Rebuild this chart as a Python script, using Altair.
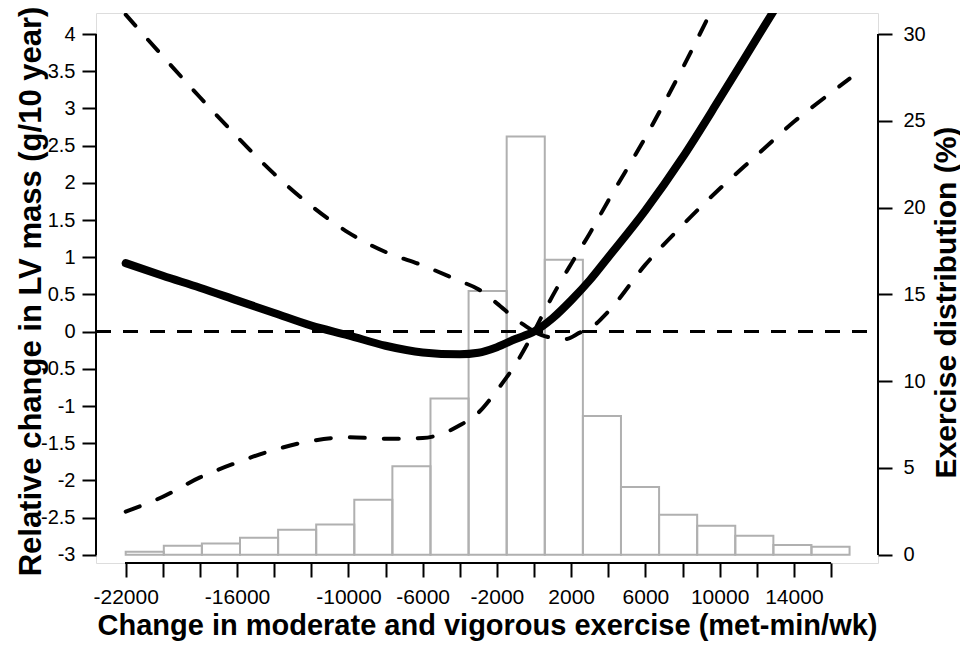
import altair as alt
import pandas as pd

# ---- data ----
# histogram (exercise distribution, %), bins in met-min/wk
bin_left = [-22000, -19947, -17895, -15842, -13789, -11737, -9684, -7632, -5579, -3526,
            -1474, 579, 2632, 4684, 6737, 8789, 10842, 12895, 14947]
bin_right = [-19947, -17895, -15842, -13789, -11737, -9684, -7632, -5579, -3526, -1474,
             579, 2632, 4684, 6737, 8789, 10842, 12895, 14947, 17000]
bin_pct = [0.18, 0.52, 0.65, 0.98, 1.44, 1.75, 3.17, 5.1, 9.0, 15.2,
           24.1, 17.0, 8.0, 3.9, 2.3, 1.67, 1.1, 0.56, 0.46]

# fitted curve
fit_x = [-22000, -20000, -18000, -16000, -14000, -12000, -10000, -8000, -6000, -4000, -3000,
         -2000, -1000, 0, 1000, 2000, 3000, 4000, 6000, 8000, 10000, 12000, 14000]
fit_y = [0.92, 0.75, 0.59, 0.42, 0.25, 0.08, -0.05, -0.19, -0.28, -0.305, -0.285,
         -0.21, -0.10, 0.0, 0.18, 0.42, 0.69, 1.0, 1.63, 2.34, 3.13, 3.94, 4.75]

# confidence band pieces (dashed)
ci_upper_left_x = [0, -1000, -2000, -3000, -4000, -6000, -8000, -10000, -12000, -14000, -16000, -18000, -20000, -22000]
ci_upper_left_y = [0.0, 0.17, 0.38, 0.57, 0.68, 0.89, 1.07, 1.33, 1.69, 2.12, 2.62, 3.15, 3.70, 4.26]
ci_upper_right_x = [0, 1000, 2000, 3000, 4000, 6000, 8000, 10000]
ci_upper_right_y = [0.0, 0.48, 0.91, 1.32, 1.76, 2.61, 3.54, 4.54]
ci_lower_left_x = [-22000, -20000, -18000, -16000, -14000, -12000, -10000, -8000, -6000, -4000, -3000, -2000, -1000, 0]
ci_lower_left_y = [-2.42, -2.22, -1.96, -1.76, -1.59, -1.47, -1.42, -1.44, -1.43, -1.26, -1.09, -0.79, -0.44, 0.0]
ci_lower_right_x = [0, 700, 1700, 2500, 3000, 4000, 6000, 8000, 10000, 12000, 14000, 16000, 17000]
ci_lower_right_y = [0.0, -0.07, -0.10, -0.01, 0.04, 0.27, 0.90, 1.43, 1.92, 2.37, 2.82, 3.21, 3.40]

# axes
x_ticks = [-22000, -20000, -18000, -16000, -14000, -12000, -10000, -8000, -6000, -4000, -2000,
           0, 2000, 4000, 6000, 8000, 10000, 12000, 14000, 16000]
x_labels_shown = [-22000, -16000, -10000, -6000, -2000, 2000, 6000, 10000, 14000]
y_ticks = [-3, -2.5, -2, -1.5, -1, -0.5, 0, 0.5, 1, 1.5, 2, 2.5, 3, 3.5, 4]
pct_ticks = [0, 5, 10, 15, 20, 25, 30]

# ---- tables ----
hist_df = pd.DataFrame({"x0": bin_left, "x1": bin_right, "pct": bin_pct})
fit_df = pd.DataFrame({"x": fit_x, "y": fit_y})
ci_rows = []
for name, xs, ys in [("ul", ci_upper_left_x, ci_upper_left_y),
                     ("ur", ci_upper_right_x, ci_upper_right_y),
                     ("ll", ci_lower_left_x, ci_lower_left_y),
                     ("lr", ci_lower_right_x, ci_lower_right_y)]:
    for i, (xv, yv) in enumerate(zip(xs, ys)):
        ci_rows.append({"seg": name, "x": xv, "y": yv, "ord": i})
ci_df = pd.DataFrame(ci_rows)

W, H = 782, 550
FONT = "Liberation Sans"

xscale = alt.Scale(domain=[-23600, 18532], nice=False, zero=False)
yscale = alt.Scale(domain=[-3.1102, 4.2823], nice=False, zero=False)
pscale = alt.Scale(domain=[-0.4724, 31.2097], nice=False, zero=False)

shown = "[" + ",".join(str(v) for v in x_labels_shown) + "]"
x_axis = alt.Axis(
    values=x_ticks, domain=False, grid=False, ticks=True, tickSize=14, tickWidth=2,
    tickColor="black", labelFontSize=21, labelColor="black", labelPadding=9,
    labelOverlap=False, labelFlush=False, labelBound=False,
    labelExpr=f"indexof({shown}, datum.value) >= 0 ? toString(datum.value) : ''",
    title="Change in moderate and vigorous exercise (met-min/wk)",
    titleFontSize=29, titleFontWeight="bold", titleColor="black",
    titleBaseline="alphabetic", titleY=71, titleX=W / 2,
)
y_axis = alt.Axis(
    orient="left", values=y_ticks, domain=False, grid=False, tickSize=14, tickWidth=2,
    tickColor="black", labelFontSize=20, labelColor="black", labelPadding=7,
    labelOverlap=False, labelFlush=False, labelBound=False,
    labelExpr="toString(datum.value)",
    title="Relative change in LV mass (g/10 year)", titleFontSize=31,
    titleFontWeight="bold", titleColor="black", titleAngle=270,
    titleBaseline="bottom", titleAlign="center", titleX=-49, titleY=278,
)
p_axis = alt.Axis(
    orient="right", values=pct_ticks, domain=False, grid=False, tickSize=14, tickWidth=2,
    tickColor="black", labelFontSize=20, labelColor="black", labelPadding=11,
    labelOverlap=False, labelFlush=False, labelBound=False,
    labelExpr="toString(datum.value)",
    title="Exercise distribution (%)", titleFontSize=30, titleFontWeight="bold",
    titleColor="black", titleAngle=270, titleBaseline="top", titleAlign="center",
    titleX=53, titleY=289,
)

hist = alt.Chart(hist_df).mark_rect(
    fill="white", fillOpacity=0, stroke="#b0b0b0", strokeWidth=2
).encode(
    x=alt.X("x0:Q", scale=xscale, axis=x_axis),
    x2="x1:Q",
    y=alt.Y("pct:Q", scale=pscale, axis=p_axis),
    y2=alt.datum(0),
)

fit = alt.Chart(fit_df).mark_line(
    color="black", strokeWidth=8, strokeCap="round", strokeJoin="round",
    interpolate="monotone", clip=True
).encode(
    x=alt.X("x:Q", scale=xscale, axis=x_axis),
    y=alt.Y("y:Q", scale=yscale, axis=y_axis),
)

ci = alt.Chart(ci_df).mark_line(
    color="black", strokeWidth=4, strokeDash=[15, 19], strokeCap="round",
    interpolate="monotone", clip=True
).encode(
    x=alt.X("x:Q", scale=xscale, axis=x_axis),
    y=alt.Y("y:Q", scale=yscale, axis=y_axis),
    detail="seg:N",
    order=alt.Order("ord:Q"),
)

zero_line = alt.Chart(fit_df).mark_rule(
    color="black", strokeWidth=2, strokeDash=[15, 12]
).encode(
    x=alt.value(0), x2=alt.value(W), y=alt.YDatum(0, axis=y_axis, scale=yscale)
)

left_line = alt.Chart(fit_df).mark_rule(color="black", strokeWidth=2).encode(
    x=alt.value(0), y=alt.YDatum(-3, axis=y_axis, scale=yscale), y2=alt.datum(4)
)
right_line = alt.Chart(fit_df).mark_rule(color="black", strokeWidth=2).encode(
    x=alt.XDatum(18532, axis=x_axis, scale=xscale),
    y=alt.YDatum(-3, axis=y_axis, scale=yscale), y2=alt.datum(4)
)
bottom_line = alt.Chart(fit_df).mark_rule(color="black", strokeWidth=2).encode(
    y=alt.value(H), x=alt.XDatum(-22000, axis=x_axis, scale=xscale), x2=alt.datum(16000)
)

inner = alt.layer(zero_line, ci, fit, left_line, right_line, bottom_line)

chart = alt.layer(hist, inner).resolve_scale(y="independent").properties(
    width=W, height=H,
    autosize=alt.AutoSizeParams(type="none"),
    padding={"left": 88, "top": 5, "right": 82, "bottom": 79},
).configure_view(stroke="transparent", strokeWidth=0).configure(
    font=FONT
).configure_axis(labelFont=FONT, titleFont=FONT)

chart.save("out.html", embed_options={"renderer": "svg", "actions": False})
